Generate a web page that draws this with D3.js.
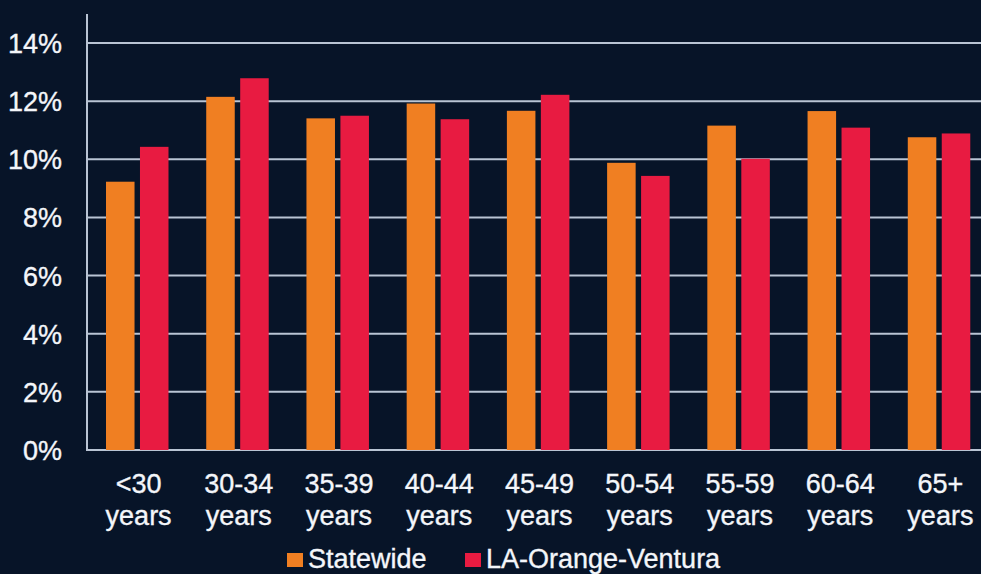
<!DOCTYPE html>
<html>
<head>
<meta charset="utf-8">
<script src="https://cdn.jsdelivr.net/npm/d3@7/dist/d3.min.js"></script>
<style>
html,body{margin:0;padding:0;background:#071428;}
svg{display:block;}
text{font-family:"Liberation Sans",Arial,sans-serif;fill:#f4f6fa;stroke:#f4f6fa;stroke-width:0.35px;}
</style>
</head>
<body>
<svg id="chart" width="981" height="574"></svg>
<script>
const categories = ["<30|years","30-34|years","35-39|years","40-44|years","45-49|years","50-54|years","55-59|years","60-64|years","65+|years"];
const seriesNames = ["Statewide","LA-Orange-Ventura"];
const statewide = [9.23, 12.15, 11.41, 11.92, 11.67, 9.88, 11.16, 11.66, 10.76];
const laOrangeVentura = [10.43, 12.79, 11.50, 11.38, 12.22, 9.43, 10.02, 11.09, 10.89];
const yTicks = [0, 2, 4, 6, 8, 10, 12, 14];
const colors = ["#f07f22", "#e81b41"];

(function () {
const svg = d3.select("#chart");
const W = 981, H = 574;
svg.append("rect").attr("width", W).attr("height", H).attr("fill", "#071428");

const mLeft = 87, mBottom = 450, mTop = 14;
const y = d3.scaleLinear().domain([0, 15]).range([mBottom, mTop]);
const x0 = d3.scaleBand().domain(categories).range([mLeft, 989]).paddingInner(0).paddingOuter(0);
const x1 = d3.scaleBand().domain(seriesNames).range([19, 81.5]).paddingInner(0.16).paddingOuter(0);

const gridColor = "#b9c4d4";

svg.append("g").selectAll("line").data(yTicks).join("line")
  .attr("x1", mLeft).attr("x2", W)
  .attr("y1", d => y(d)).attr("y2", d => y(d))
  .attr("stroke", gridColor).attr("stroke-width", 2);

svg.append("line").attr("x1", mLeft).attr("x2", mLeft).attr("y1", mTop).attr("y2", mBottom + 1)
  .attr("stroke", gridColor).attr("stroke-width", 2);

const yAxis = d3.axisLeft(y).tickValues(yTicks).tickFormat(d => d + "%").tickSize(0).tickPadding(25);
const ga = svg.append("g").attr("transform", `translate(${mLeft},0)`).call(yAxis);
ga.select(".domain").remove();
ga.selectAll("text").attr("font-size", 27).attr("font-family", "Liberation Sans, Arial, sans-serif")
  .attr("fill", "#f4f6fa").attr("dy", "0.35em");

const data = categories.map((c, i) => ({c, vals: [statewide[i], laOrangeVentura[i]]}));
const groups = svg.append("g").selectAll("g").data(data).join("g")
  .attr("transform", d => `translate(${x0(d.c)},0)`);
groups.selectAll("rect").data(d => d.vals.map((v, k) => ({v, s: seriesNames[k], k}))).join("rect")
  .attr("x", d => x1(d.s)).attr("width", x1.bandwidth())
  .attr("y", d => y(d.v)).attr("height", d => mBottom - y(d.v))
  .attr("fill", d => colors[d.k]);

const cx = d => x0(d) + x0.bandwidth() / 2 + 1.5;
const xl = svg.append("g").selectAll("text").data(categories).join("text")
  .attr("x", cx).attr("text-anchor", "middle").attr("font-size", 27);
xl.append("tspan").attr("x", cx).attr("y", 493).text(d => d.split("|")[0]);
xl.append("tspan").attr("x", cx).attr("y", 525).text(d => d.split("|")[1]);

const legendX = [287, 465];
const lg = svg.append("g").selectAll("g").data(seriesNames).join("g")
  .attr("transform", (d, i) => `translate(${legendX[i]},0)`);
lg.append("rect").attr("x", 0).attr("y", 553).attr("width", 16).attr("height", 14)
  .attr("fill", (d, i) => colors[i]);
lg.append("text").attr("x", 21).attr("y", 568).attr("font-size", 27).text(d => d);
})();
</script>
</body>
</html>
